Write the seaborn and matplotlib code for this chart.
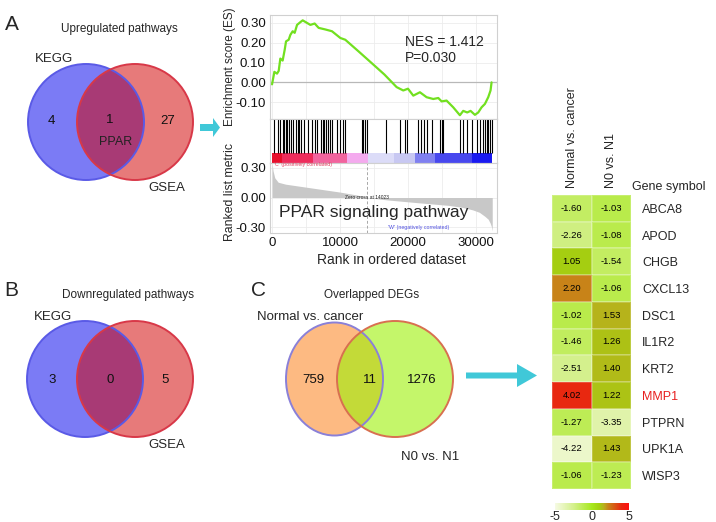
import numpy as np
import pandas as pd
import matplotlib
matplotlib.use("Agg")
import matplotlib.pyplot as plt
from matplotlib.patches import Circle, Ellipse, FancyArrow
from matplotlib.colors import LinearSegmentedColormap, Normalize
import matplotlib.cm as cm
import seaborn as sns

# ---- data ----
up_labels = ["KEGG", "GSEA"]
up_counts = [4, 1, 27]        # KEGG only, shared, GSEA only
down_counts = [3, 0, 5]
deg_labels = ["Normal vs. cancer", "N0 vs. N1"]
deg_counts = [759, 11, 1276]

es_rank = [0, 343, 735, 980, 1220, 1560, 1860, 2060, 2450, 2700, 3040, 3330, 3680,
           4170, 4510, 5150, 5640, 6270, 6860, 7840, 8820, 10050, 10780, 12740,
           14700, 16520, 18330, 19310, 20000, 20780, 21760, 22740, 23720, 24460,
           24950, 25680, 26660, 27640, 28130, 28720, 29210, 29850, 30340, 30830,
           31320, 31810, 32150, 32300]
es_value = [-0.01, 0.053, 0.044, 0.058, 0.12, 0.11, 0.164, 0.207, 0.215, 0.24,
            0.258, 0.25, 0.29, 0.304, 0.313, 0.30, 0.29, 0.297, 0.275, 0.267,
            0.258, 0.224, 0.215, 0.156, 0.096, 0.04, -0.024, -0.041, -0.032,
            -0.067, -0.05, -0.075, -0.084, -0.079, -0.096, -0.092, -0.126,
            -0.166, -0.144, -0.152, -0.144, -0.164, -0.152, -0.126, -0.109,
            -0.075, -0.041, 0.0]

hit_ranks = [343, 834, 1176, 1569, 1765, 2010, 2157, 2500, 2794, 3137, 3480, 3774,
             3921, 4216, 4755, 5245, 5833, 6323, 6568, 7205, 7549, 7696, 7941,
             8186, 8529, 8774, 9510, 10000, 10490, 10735, 13186, 13431, 13676,
             13921, 16760, 18820, 19560, 19900, 21520, 21860, 22350, 22740, 23480,
             24700, 24950, 25200, 27650, 28140, 28720, 29360, 30100, 30590, 30980,
             31320, 31570, 31810, 32060, 32300]

metric_rank = [0, 150, 400, 900, 2000, 4000, 7000, 10000, 12500, 14023, 17000,
               21000, 24000, 26000, 28000, 29500, 30500, 31300, 31800, 32100,
               32300, 32400]
metric_value = [0.35, 0.27, 0.2, 0.155, 0.135, 0.115, 0.085, 0.055, 0.025, 0.0,
                -0.025, -0.05, -0.068, -0.08, -0.1, -0.125, -0.15, -0.19, -0.22,
                -0.26, -0.3, -0.34]
zero_cross = 14023

band_edges = [0, 1500, 6000, 11000, 14100, 18000, 21000, 24000, 29400, 32400]
band_colors = ["#e8102c", "#ee2c5c", "#f2649e", "#f4aaee", "#dcdcf8", "#c8c8f2",
               "#8080f0", "#4848ee", "#1a1af0"]

genes = ["ABCA8", "APOD", "CHGB", "CXCL13", "DSC1", "IL1R2", "KRT2", "MMP1",
         "PTPRN", "UPK1A", "WISP3"]
normal_vs_cancer = [-1.60, -2.26, 1.05, 2.20, -1.02, -1.46, -2.51, 4.02, -1.27,
                    -4.22, -1.06]
n0_vs_n1 = [-1.03, -1.08, -1.54, -1.06, 1.53, 1.26, 1.40, 1.22, -3.35, 1.43, -1.23]

# ---- style ----
sns.set_theme(style="white")
plt.rcParams["font.family"] = ["Liberation Sans", "DejaVu Sans"]

W, H = 716, 522
fig = plt.figure(figsize=(W / 100, H / 100), dpi=100)


def px_axes(x0, y0, x1, y1):
    return fig.add_axes([x0 / W, 1 - y1 / H, (x1 - x0) / W, (y1 - y0) / H])


def ftxt(x, y, s, **kw):
    kw.setdefault("ha", "center")
    kw.setdefault("va", "center")
    return fig.text(x / W, 1 - y / H, s, **kw)


bg = fig.add_axes([0, 0, 1, 1])
bg.set_xlim(0, W)
bg.set_ylim(H, 0)
bg.axis("off")
bg.patch.set_visible(False)


def venn(cy, counts, labels_pos, left, right, lw_, rw_, lh_):
    # left set drawn solid, right set translucent on top
    (lx, lc, le), (rx, rc, ra, re) = left, right
    bg.add_patch(Ellipse((lx, cy), lw_, lh_, fc=lc, ec="none"))
    bg.add_patch(Circle((rx, cy), rw_ / 2, fc=rc, alpha=ra, ec="none"))
    bg.add_patch(Ellipse((lx, cy), lw_, lh_, fc="none", ec=le, lw=1.4))
    bg.add_patch(Circle((rx, cy), rw_ / 2, fc="none", ec=re, lw=1.4))
    for (x, y), c in zip(labels_pos, counts):
        bg.text(x, y, str(c), ha="center", va="center", fontsize=9.5, color="#111111")


# Panel A
ftxt(12, 25, "A", fontsize=15)
ftxt(119, 29, "Upregulated pathways", fontsize=8.5)
ftxt(54, 59, up_labels[0], fontsize=9.5)
ftxt(167, 188, up_labels[1], fontsize=9.5)
venn(122, up_counts, [(51, 121), (110, 120), (168, 121)],
     (86, "#7b7bf5", "#5a5ae6"), (135, "#d20000", 0.52, "#d83848"), 116, 116, 116)
ftxt(116, 142, "PPAR", fontsize=9, color="#222222")
bg.add_patch(FancyArrow(200, 127.5, 20, 0, width=7, head_width=19, head_length=7,
                        length_includes_head=True, color="#40c8d8", lw=0))

# Panel B
ftxt(11, 291, "B", fontsize=15)
ftxt(128, 295, "Downregulated pathways", fontsize=8.5)
ftxt(53, 317, up_labels[0], fontsize=9.5)
ftxt(167, 445, up_labels[1], fontsize=9.5)
venn(379, down_counts, [(52, 380), (110, 380), (165, 380)],
     (85, "#7b7bf5", "#5a5ae6"), (135, "#d20000", 0.52, "#d83848"), 116, 116, 116)

# Panel C
ftxt(259, 291, "C", fontsize=15)
ftxt(372, 295, "Overlapped DEGs", fontsize=8.5)
ftxt(310, 317, deg_labels[0], fontsize=9.5)
ftxt(430, 457, deg_labels[1], fontsize=9.5)
venn(379, deg_counts, [(313, 380), (370, 380), (422, 380)],
     (334.5, "#fdba82", "#8a80d8"), (395, "#9df107", 0.6, "#d87050"), 97, 116, 113)
bg.add_patch(FancyArrow(466, 375.5, 71, 0, width=6, head_width=23, head_length=20,
                        length_includes_head=True, color="#40c8d8", lw=0))

# ---- GSEA enrichment plot ----
xlim = (-300, 33100)
spine_c = "#d0d0d0"
ax_es = px_axes(270, 15, 497, 119)
ax_hit = px_axes(270, 119, 497, 163)
ax_rank = px_axes(270, 163, 497, 233)
for a in (ax_es, ax_hit, ax_rank):
    a.set_xlim(*xlim)
    for s in a.spines.values():
        s.set_color(spine_c)
        s.set_linewidth(0.8)
    a.tick_params(length=0, labelsize=9.5, pad=3, colors="#111111")

sns.lineplot(x=es_rank, y=es_value, ax=ax_es, color="#72e020", lw=1.6)
ax_es.axhline(0, color="#b8b8b8", lw=0.9, zorder=1)
ax_es.set_ylim(-0.185, 0.34)
ax_es.set_yticks([-0.1, 0.0, 0.1, 0.2, 0.3])
ax_es.set_yticklabels([f"{v:.2f}" for v in [-0.1, 0.0, 0.1, 0.2, 0.3]])
ax_es.set_xticks(range(0, 33000, 5000))
ax_es.set_xticklabels([])
ax_es.grid(True, color="#ececec", lw=0.6)
ax_es.set_ylabel("Enrichment score (ES)", fontsize=8.5)
ax_es.yaxis.set_label_coords(-0.15, 0.5)

ax_hit.set_ylim(0, 1)
ax_hit.vlines(hit_ranks, 0.23, 1, color="black", lw=0.8)
ax_hit.broken_barh([(band_edges[i], band_edges[i + 1] - band_edges[i])
                    for i in range(len(band_colors))], (0, 0.23),
                   facecolors=band_colors, edgecolors="none", linewidth=0)
ax_hit.set_xticks([])
ax_hit.set_yticks([])

ax_rank.fill_between(metric_rank, metric_value, 0, color="#c8c8c8", lw=0)
ax_rank.axvline(zero_cross, color="#a8a8a8", lw=0.7, ls=(0, (3, 2)))
ax_rank.set_ylim(-0.36, 0.35)
ax_rank.set_yticks([-0.3, 0.0, 0.3])
ax_rank.set_yticklabels(["-0.30", "0.00", "0.30"])
ax_rank.set_xticks([0, 10000, 20000, 30000])
ax_rank.set_xticks(range(0, 33000, 5000), minor=True)
ax_rank.grid(True, which="both", color="#ececec", lw=0.6)
ax_rank.set_ylabel("Ranked list metric", fontsize=8.8)
ax_rank.yaxis.set_label_coords(-0.15, 0.586)
ax_rank.set_xlabel("Rank in ordered dataset", fontsize=10)
ax_rank.xaxis.set_label_coords(0.537, -0.29)
ax_rank.text(zero_cross, 0.0, f"Zero cross at {zero_cross}", fontsize=3.5,
             ha="center", va="center", color="#222222")
ax_rank.text(300, 0.335, "'C' (positively correlated)", fontsize=3.8,
             ha="left", va="center", color="#e04060")
ax_rank.text(21600, -0.30, "'W' (negatively correlated)", fontsize=3.8,
             ha="center", va="center", color="#5050e0")

ftxt(405, 42, "NES = 1.412", fontsize=10, ha="left")
ftxt(405, 58, "P=0.030", fontsize=10, ha="left")
ftxt(279, 212, "PPAR signaling pathway", fontsize=12.5, ha="left")

# ---- heatmap of the 11 overlapping DEGs ----
cmap = LinearSegmentedColormap.from_list("fc", [
    (0.0, "#f6fae4"), (0.25, "#d4f08c"), (0.5, "#a6e81c"), (0.6, "#a4d010"),
    (0.66, "#b8b01c"), (0.72, "#c88418"), (0.9, "#e82810"), (1.0, "#ff1010")])
df = pd.DataFrame({deg_labels[0]: normal_vs_cancer, deg_labels[1]: n0_vs_n1},
                  index=genes)
hax = px_axes(552, 195, 631, 489)
sns.heatmap(df, ax=hax, cmap=cmap, vmin=-5, vmax=5, annot=True, fmt=".2f",
            annot_kws=dict(size=6.8, color="black"), cbar=False,
            linewidths=0.3, linecolor=(1, 1, 1, 0.2))
hax.xaxis.tick_top()
hax.set_xticklabels(df.columns, rotation=90, fontsize=9)
hax.yaxis.tick_right()
hax.set_yticklabels(genes, rotation=0, fontsize=9, ha="left")
hax.tick_params(axis="x", length=0, pad=5)
hax.tick_params(axis="y", length=0, pad=8)
hax.set_xlabel("")
hax.set_ylabel("")
for t in hax.get_yticklabels():
    if t.get_text() == "MMP1":
        t.set_color("#e82020")
ftxt(632, 187, "Gene symbol", fontsize=9, ha="left")

cax = px_axes(555, 503, 629, 510)
cb = fig.colorbar(cm.ScalarMappable(norm=Normalize(-5, 5), cmap=cmap), cax=cax,
                  orientation="horizontal")
cb.outline.set_visible(False)
cb.set_ticks([-5, 0, 5])
cb.set_ticklabels(["-5", "0", "5"])
cax.tick_params(length=0, labelsize=9, pad=1)

fig.savefig("out.png", dpi=100)
